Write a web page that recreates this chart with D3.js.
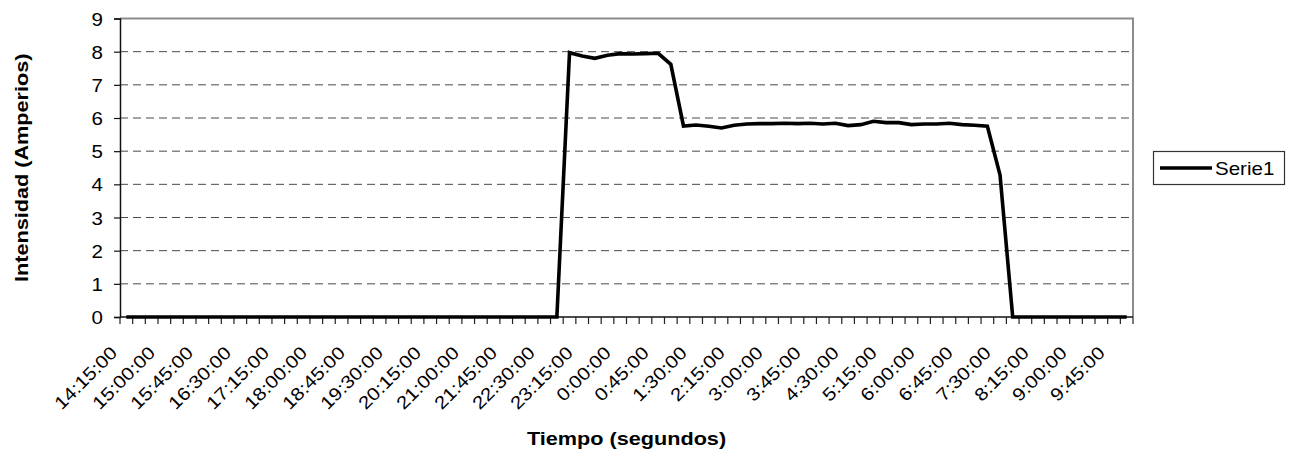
<!DOCTYPE html>
<html><head><meta charset="utf-8">
<script src="https://cdn.jsdelivr.net/npm/d3@7"></script>
<style>
html,body{margin:0;padding:0;background:#fff;}
svg{display:block;font-family:"Liberation Sans",Arial,sans-serif;}
</style></head>
<body>
<svg id="chart" width="1290" height="452"></svg>
<script>
const categories = [
"14:15:00","14:30:00","14:45:00","15:00:00","15:15:00","15:30:00","15:45:00","16:00:00","16:15:00","16:30:00",
"16:45:00","17:00:00","17:15:00","17:30:00","17:45:00","18:00:00","18:15:00","18:30:00","18:45:00","19:00:00",
"19:15:00","19:30:00","19:45:00","20:00:00","20:15:00","20:30:00","20:45:00","21:00:00","21:15:00","21:30:00",
"21:45:00","22:00:00","22:15:00","22:30:00","22:45:00","23:00:00","23:15:00","23:30:00","23:45:00","0:00:00",
"0:15:00","0:30:00","0:45:00","1:00:00","1:15:00","1:30:00","1:45:00","2:00:00","2:15:00","2:30:00",
"2:45:00","3:00:00","3:15:00","3:30:00","3:45:00","4:00:00","4:15:00","4:30:00","4:45:00","5:00:00",
"5:15:00","5:30:00","5:45:00","6:00:00","6:15:00","6:30:00","6:45:00","7:00:00","7:15:00","7:30:00",
"7:45:00","8:00:00","8:15:00","8:30:00","8:45:00","9:00:00","9:15:00","9:30:00","9:45:00","10:00:00"
];
const serie1 = [
0,0,0,0,0,0,0,0,0,0,
0,0,0,0,0,0,0,0,0,0,
0,0,0,0,0,0,0,0,0,0,
0,0,0,0,0,7.97,7.87,7.80,7.89,7.94,
7.93,7.94,7.95,7.62,5.76,5.79,5.75,5.70,5.78,5.82,
5.83,5.83,5.84,5.83,5.84,5.82,5.84,5.77,5.80,5.90,
5.86,5.86,5.80,5.82,5.82,5.84,5.80,5.78,5.75,4.28,
0,0,0,0,0,0,0,0,0,0
];
const yTicks = [0,1,2,3,4,5,6,7,8,9];
const seriesName = "Serie1";
const xTitle = "Tiempo (segundos)";
const yTitle = "Intensidad (Amperios)";

const svg = d3.select("#chart");
const L = 120, R = 1133, T = 18.5, B = 317;
const SX = 1.14; // horizontal text stretch
const x = d3.scaleBand().domain(categories).range([L, R]).padding(0);
const cx = c => x(c) + x.bandwidth() / 2;
const y = d3.scaleLinear().domain([0, 9]).range([B, T]);

// gridlines
svg.append("g").selectAll("line").data(yTicks.filter(v => v > 0 && v < 9)).join("line")
  .attr("x1", L).attr("x2", R).attr("y1", d => y(d)).attr("y2", d => y(d))
  .attr("stroke", "#4a4a4a").attr("stroke-width", 1).attr("stroke-dasharray", "8,5");

// plot border top/right
svg.append("path").attr("d", `M${L},${y(9)}H${R}V${B}`)
  .attr("fill", "none").attr("stroke", "#8c8c8c").attr("stroke-width", 2);

// y axis
const yAxis = d3.axisLeft(y).tickValues(yTicks).tickSize(6).tickFormat("");
const gy = svg.append("g").attr("transform", `translate(${L},0)`).call(yAxis);
gy.select(".domain").attr("stroke", "#111").attr("stroke-width", 1.5);
gy.selectAll(".tick line").attr("stroke", "#111").attr("stroke-width", 1.2);
svg.append("g").selectAll("text").data(yTicks).join("text")
  .attr("transform", d => `translate(${L - 17},${y(d) + 7}) scale(${SX},1)`)
  .attr("text-anchor", "end").attr("font-size", 18).attr("fill", "#000").text(d => d);

// x axis (ticks between categories)
const tickPos = categories.map(c => x(c)).concat([R]);
svg.append("line").attr("x1", L).attr("x2", R).attr("y1", B).attr("y2", B)
  .attr("stroke", "#111").attr("stroke-width", 1.5);
svg.append("g").selectAll("line").data(tickPos).join("line")
  .attr("x1", d => d).attr("x2", d => d).attr("y1", B).attr("y2", B + 7)
  .attr("stroke", "#222").attr("stroke-width", 1.2);
svg.append("g").selectAll("text").data(categories.filter((c, i) => i % 3 === 0)).join("text")
  .attr("transform", d => `translate(${cx(d) - 8},${B + 37}) rotate(-45) scale(${SX},1)`)
  .attr("text-anchor", "end").attr("font-size", 18).attr("fill", "#000").text(d => d);

// series line
const line = d3.line().x((d, i) => cx(categories[i])).y(d => y(d));
svg.append("path").datum(serie1).attr("d", line)
  .attr("fill", "none").attr("stroke", "#000").attr("stroke-width", 3.6)
  .attr("stroke-linejoin", "miter").attr("stroke-miterlimit", 2);

// titles
svg.append("text").attr("transform", `translate(${(L + R) / 2},445) scale(${SX},1)`)
  .attr("text-anchor", "middle").attr("font-size", 19).attr("font-weight", "bold").text(xTitle);
svg.append("text").attr("transform", `translate(28,${(T + B) / 2}) rotate(-90) scale(${SX},1)`)
  .attr("text-anchor", "middle").attr("font-size", 19).attr("font-weight", "bold").text(yTitle);

// legend
const lg = svg.append("g");
lg.append("rect").attr("x", 1153.5).attr("y", 151.5).attr("width", 131).attr("height", 33)
  .attr("fill", "#fff").attr("stroke", "#333").attr("stroke-width", 1.2);
lg.append("line").attr("x1", 1160).attr("x2", 1212).attr("y1", 168).attr("y2", 168)
  .attr("stroke", "#000").attr("stroke-width", 3.6);
lg.append("text").attr("transform", `translate(1215,175) scale(${SX},1)`)
  .attr("font-size", 18).attr("fill", "#000").text(seriesName);
</script>
</body></html>
